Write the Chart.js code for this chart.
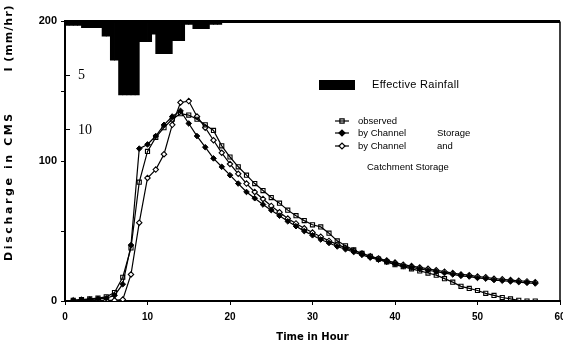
<!DOCTYPE html>
<html>
<head>
<meta charset="utf-8">
<style>
  html, body { margin: 0; padding: 0; background: #fff; }
  #wrap { position: relative; width: 563px; height: 351px; }
</style>
<script src="https://cdn.jsdelivr.net/npm/chart.js@4/dist/chart.umd.min.js"></script>
</head>
<body>
<div id="wrap"><canvas id="c" width="563" height="351"></canvas></div>
<script>
// Hourly discharge (CMS) at the outlet, hours 1..57
const hours = [1,2,3,4,5,6,7,8,9,10,11,12,13,14,15,16,17,18,19,20,
  21,22,23,24,25,26,27,28,29,30,31,32,33,34,35,36,37,38,39,40,
  41,42,43,44,45,46,47,48,49,50,51,52,53,54,55,56,57];

const observed = [0.5,1,1.5,2,3,6,17,38,85,107,117,124,130,134,133,130,126,122,111,103,
  96,90,84,79,74,70,65,61,57.5,54.5,53,48.5,43,39.5,36.5,34,32,30,28,26,
  24.5,23,21.5,20,18.5,16,13.5,10.5,9,7.5,5.5,4,2.5,1.5,0.5,0,0];

const byChannelStorage = [0.5,1,1,1.5,2,4,12,40,109,112,118,126,132,136,127,118,110,102,96,90,
  84,78,73.5,69,65,61,57,53.5,50,47,44,41.5,39,37,35,33,31,29.5,28,26.5,
  25,24,23,22,21,20,19,18,17.5,16.5,16,15,14.5,14,13.5,13,12.5];

const byChannelCatchment = [0,0,0.5,0.5,0.5,0.5,1,19,56,88,94,105,126,142,143,132,124,115,106,98,
  91,84,78,73,68,63.5,59,55.5,52,49,46,43,40.5,38,36,34,32,30.5,29,27.5,
  26,25,24,23,22,21,20,19,18.5,17.5,17,16,15.5,15,14.5,14,13.5];

// Effective rainfall (mm/hr), half-hour blocks given by their centre time
const rainHour = [0.25,0.75,1.25,1.75,2.25,2.75,3.25,3.75,4.25,4.75,5.25,5.75,6.25,
  6.75,7.25,7.75,8.25,8.75,9.25,9.75,10.25,10.75,11.25,11.75,12.25,12.75,
  13.25,13.75,14.25,14.75,15.25,15.75,16.25,16.75,17.25,17.75,18.25,18.75];
const rainIntensity = [0.4,0.4,0.4,0.4,0.6,0.6,0.6,0.6,0.6,1.4,1.4,3.6,3.6,
  6.8,6.8,6.8,6.8,6.8,1.9,1.9,1.9,1.2,3.0,3.0,3.0,3.0,
  1.8,1.8,1.8,0.3,0.3,0.7,0.7,0.7,0.7,0.3,0.3,0.3];

// Axis ticks
const timeTicks = [0,10,20,30,40,50,60];
const dischargeTicks = [0,50,100,150,200];
const dischargeTickLabels = ['0','','100','','200'];
const rainTicks = [5,10];

const seriesNames = ['observed', 'by Channel', 'by Channel'];

const pts = (ys) => hours.map((h, i) => ({ x: h, y: ys[i] }));

// Box around the plot and the rotated axis captions
const framePlugin = {
  id: 'frame',
  afterDraw(chart) {
    const { ctx, chartArea: a } = chart;
    ctx.save();
    ctx.strokeStyle = '#000';
    ctx.lineWidth = 1.5;
    ctx.beginPath();
    ctx.moveTo(a.right, a.top);
    ctx.lineTo(a.right, a.bottom);
    ctx.stroke();
    ctx.lineWidth = 3;
    ctx.beginPath();
    ctx.moveTo(a.left, a.top);
    ctx.lineTo(a.right, a.top);
    ctx.stroke();

    ctx.fillStyle = '#000';
    ctx.font = 'bold 11px "DejaVu Sans"';
    ctx.textAlign = 'center';
    ctx.textBaseline = 'middle';
    if ('letterSpacing' in ctx) ctx.letterSpacing = '2.6px';
    ctx.translate(9, 186);
    ctx.rotate(-Math.PI / 2);
    ctx.fillText('Discharge in CMS', 0, 0);
    ctx.rotate(Math.PI / 2);
    ctx.translate(0, 38 - 186);
    ctx.rotate(-Math.PI / 2);
    if ('letterSpacing' in ctx) ctx.letterSpacing = '1px';
    ctx.fillText('I (mm/hr)', 0, 0);
    ctx.restore();
  }
};

// Legend block inside the plot
const legendPlugin = {
  id: 'legendBlock',
  afterDraw(chart) {
    const { ctx } = chart;
    const H = Chart.helpers;
    ctx.save();
    ctx.fillStyle = '#000';
    ctx.fillRect(319, 80, 36, 10);
    ctx.font = '11px "Liberation Sans"';
    ctx.textBaseline = 'middle';
    ctx.textAlign = 'left';
    if ('letterSpacing' in ctx) ctx.letterSpacing = '0.3px';
    ctx.fillText('Effective Rainfall', 372, 85);

    const rows = [
      { ds: 1, y: 121, text: seriesNames[0] },
      { ds: 2, y: 133, text: seriesNames[1], extra: 'Storage' },
      { ds: 3, y: 146, text: seriesNames[2], extra: 'and' }
    ];
    ctx.font = '9.5px "Liberation Sans"';
    if ('letterSpacing' in ctx) ctx.letterSpacing = '0px';
    rows.forEach(r => {
      const d = chart.data.datasets[r.ds];
      ctx.strokeStyle = '#000';
      ctx.lineWidth = 1.2;
      ctx.beginPath();
      ctx.moveTo(335, r.y);
      ctx.lineTo(349, r.y);
      ctx.stroke();
      ctx.fillStyle = d.pointBackgroundColor;
      H.drawPoint(ctx, { pointStyle: d.pointStyle, radius: 3, borderWidth: 1.2, rotation: 0 }, 342, r.y);
      ctx.fillStyle = '#000';
      ctx.fillText(r.text, 358, r.y);
      if (r.extra) ctx.fillText(r.extra, 437, r.y);
    });
    ctx.fillText('Catchment Storage', 367, 167);
    ctx.restore();
  }
};

new Chart(document.getElementById('c'), {
  type: 'line',
  data: {
    datasets: [
      {
        type: 'bar',
        label: 'Effective Rainfall',
        data: rainHour.map((h, i) => ({ x: h, y: rainIntensity[i] })),
        yAxisID: 'rain',
        backgroundColor: '#000',
        borderWidth: 0,
        barPercentage: 1.2,
        categoryPercentage: 1,
        grouped: false
      },
      {
        label: 'observed',
        data: pts(observed),
        yAxisID: 'y',
        borderColor: '#000',
        borderWidth: 1.2,
        pointStyle: 'rect',
        pointRadius: 2.9,
        pointBorderWidth: 1.1,
        pointBorderColor: '#000',
        pointBackgroundColor: 'rgba(255,255,255,0)',
        tension: 0
      },
      {
        label: 'by Channel Storage',
        data: pts(byChannelStorage),
        yAxisID: 'y',
        borderColor: '#000',
        borderWidth: 1.2,
        pointStyle: 'rectRot',
        pointRadius: 2.8,
        pointBorderWidth: 1,
        pointBorderColor: '#000',
        pointBackgroundColor: '#000',
        tension: 0
      },
      {
        label: 'by Channel and Catchment Storage',
        data: pts(byChannelCatchment),
        yAxisID: 'y',
        borderColor: '#000',
        borderWidth: 1.2,
        pointStyle: 'rectRot',
        pointRadius: 2.7,
        pointBorderWidth: 1.1,
        pointBorderColor: '#000',
        pointBackgroundColor: '#fff',
        tension: 0
      }
    ]
  },
  options: {
    responsive: false,
    animation: false,
    devicePixelRatio: 1,
    layout: { autoPadding: false, padding: { left: 15, top: 17, right: 3, bottom: 0 } },
    plugins: { legend: { display: false }, tooltip: { enabled: false } },
    scales: {
      x: {
        type: 'linear',
        offset: false,
        min: 0, max: 60,
        afterBuildTicks: s => { s.ticks = timeTicks.map(v => ({ value: v })); },
        afterFit: s => { s.height = 50; s.paddingLeft = 0; s.paddingRight = 0; },
        ticks: { color: '#000', font: { family: 'Liberation Sans', weight: 'bold', size: 10 }, padding: 6, maxRotation: 0 },
        grid: { offset: false, drawOnChartArea: false, tickLength: 4, color: '#000', lineWidth: 1 },
        border: { display: true, color: '#000', width: 2 },
        title: { display: true, text: 'Time in Hour', color: '#000',
                 font: { family: 'DejaVu Sans', weight: 'bold', size: 10 }, padding: { top: 0, bottom: 8 } }
      },
      y: {
        position: 'left',
        weight: 1,
        min: 0, max: 200,
        afterBuildTicks: s => { s.ticks = dischargeTicks.map(v => ({ value: v })); },
        afterFit: s => { s.width = 50; },
        ticks: {
          color: '#000', padding: 4,
          font: { family: 'Liberation Sans', weight: 'bold', size: 11 },
          callback: (v) => dischargeTickLabels[dischargeTicks.indexOf(v)]
        },
        grid: { drawOnChartArea: false, tickLength: 4, color: '#000', lineWidth: 1 },
        border: { display: true, color: '#000', width: 2 }
      },
      rain: {
        position: 'left',
        weight: 0,
        reverse: true,
        min: 0, max: 25.77,
        afterBuildTicks: s => { s.ticks = rainTicks.map(v => ({ value: v })); },
        afterFit: s => { s.width = 0; },
        ticks: { mirror: true, padding: 13, color: '#000',
                 font: { family: 'Liberation Serif', size: 14 } },
        grid: { drawOnChartArea: false, tickLength: -5, color: '#000', lineWidth: 1 },
        border: { display: false }
      }
    }
  },
  plugins: [framePlugin, legendPlugin]
});
</script>
</body>
</html>
